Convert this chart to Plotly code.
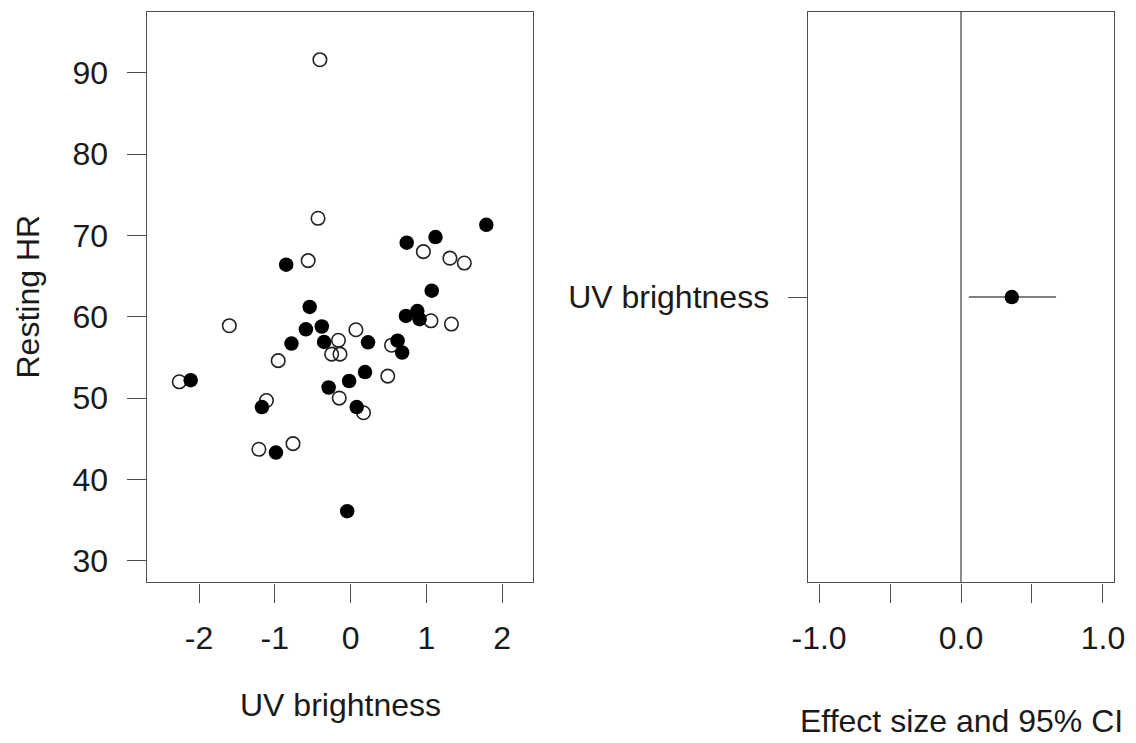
import plotly.graph_objects as go

# Resting heart rate against UV brightness, split by group (open / filled symbols)
open_uv = [-0.405, -0.43, -0.56, 0.96, 1.31, 1.50, -1.60, 1.06, 1.33, 0.07,
           -0.16, 0.54, -0.25, -0.14, -0.955, -2.26, 0.49, -0.15, -1.11, 0.17,
           -0.76, -1.21]
open_hr = [91.6, 72.1, 66.9, 68.0, 67.2, 66.6, 58.9, 59.5, 59.1, 58.4,
           57.1, 56.5, 55.4, 55.4, 54.6, 52.0, 52.7, 50.0, 49.7, 48.2,
           44.4, 43.7]

filled_uv = [1.79, 1.12, 0.74, -0.85, 1.07, -0.54, 0.73, 0.88, 0.91, -0.59,
             -0.38, -0.78, -0.35, 0.23, 0.62, 0.68, -2.11, 0.19, -0.02, -0.29,
             -1.17, 0.08, -0.985, -0.045]
filled_hr = [71.3, 69.8, 69.1, 66.4, 63.2, 61.2, 60.1, 60.7, 59.7, 58.45,
             58.8, 56.7, 56.9, 56.85, 57.05, 55.6, 52.2, 53.2, 52.1, 51.3,
             48.9, 48.9, 43.3, 36.1]

# Effect estimate with its 95% confidence interval
effect_label = "UV brightness"
effect_est = 0.358
effect_lo = 0.055
effect_hi = 0.67

left_xticks = [-2, -1, 0, 1, 2]
left_xticktext = ["-2", "-1", "0", "1", "2"]
left_yticks = [30, 40, 50, 60, 70, 80, 90]
right_xticks = [-1.0, -0.5, 0.0, 0.5, 1.0]
right_xticktext = ["-1.0", "", "0.0", "", "1.0"]

W, H = 1136, 743
FONT = "Liberation Sans, Arial, sans-serif"
TXT = "#1a1a1a"
LINE = "#4d4d4d"

fig = go.Figure()

fig.add_trace(go.Scatter(
    x=open_uv, y=open_hr, mode="markers", xaxis="x", yaxis="y",
    marker=dict(symbol="circle-open", size=13.5, color="#222222",
                line=dict(width=1.6, color="#222222")),
    showlegend=False, hoverinfo="skip"))
fig.add_trace(go.Scatter(
    x=filled_uv, y=filled_hr, mode="markers", xaxis="x", yaxis="y",
    marker=dict(symbol="circle", size=14.5, color="#000000",
                line=dict(width=0)),
    showlegend=False, hoverinfo="skip"))

fig.add_trace(go.Scatter(
    x=[effect_lo, effect_hi], y=[effect_label, effect_label], mode="lines",
    xaxis="x2", yaxis="y2", line=dict(color="#555555", width=1.5),
    showlegend=False, hoverinfo="skip"))
fig.add_trace(go.Scatter(
    x=[effect_est], y=[effect_label], mode="markers", xaxis="x2", yaxis="y2",
    marker=dict(symbol="circle", size=14.5, color="#000000"),
    showlegend=False, hoverinfo="skip"))

ydom = [(H - 582.4) / H, (H - 11.7) / H]
axis_common = dict(
    showline=True, mirror=True, linecolor=LINE, linewidth=1.3,
    ticks="outside", ticklen=19, tickwidth=1.3, tickcolor=LINE,
    showgrid=False, zeroline=False, automargin=False,
    tickfont=dict(family=FONT, size=32, color=TXT),
)

fig.update_layout(
    width=W, height=H,
    margin=dict(l=0, r=0, t=0, b=0, pad=0),
    paper_bgcolor="white", plot_bgcolor="white",
    xaxis=dict(domain=[146.7 / W, 533.3 / W], range=[-2.69, 2.41],
               tickvals=left_xticks, ticktext=left_xticktext,
               ticklabelstandoff=8, **axis_common),
    yaxis=dict(domain=ydom, range=[27.34, 97.5], tickvals=left_yticks,
               ticklabelstandoff=12, **axis_common),
    xaxis2=dict(domain=[807.7 / W, 1114.3 / W], range=[-1.08, 1.08],
                tickvals=right_xticks, ticktext=right_xticktext,
                ticklabelstandoff=8, anchor="y2", **axis_common),
    yaxis2=dict(domain=ydom, type="category", range=[-1, 1],
                ticklabelstandoff=12, anchor="x2", **axis_common),
    shapes=[dict(type="line", xref="x2", yref="y2 domain", x0=0, x1=0,
                 y0=0, y1=1, line=dict(color=LINE, width=1.3))],
    annotations=[
        dict(text="UV brightness", xref="x domain", yref="paper",
             x=0.5, y=(H - 705) / H,
             showarrow=False, xanchor="center", yanchor="middle",
             font=dict(family=FONT, size=32, color=TXT)),
        dict(text="Resting HR", xref="paper", yref="paper",
             x=27.5 / W, y=(H - 297) / H, textangle=-90,
             showarrow=False, xanchor="center", yanchor="middle",
             font=dict(family=FONT, size=32, color=TXT)),
        dict(text="Effect size and 95% CI", xref="x2 domain", yref="paper",
             x=0.5, y=(H - 721) / H,
             showarrow=False, xanchor="center", yanchor="middle",
             font=dict(family=FONT, size=32, color=TXT)),
    ],
)

fig.write_html("out.html")
